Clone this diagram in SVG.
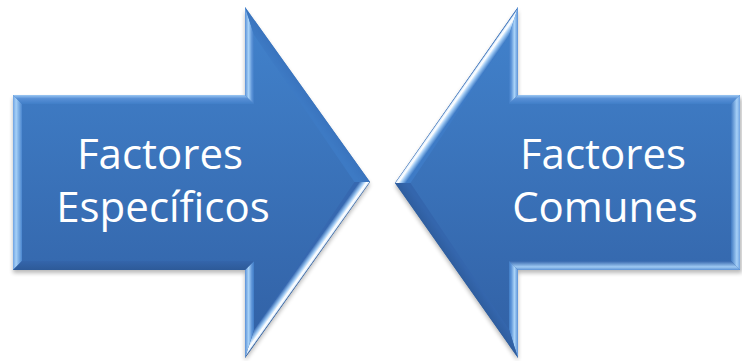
<svg xmlns="http://www.w3.org/2000/svg" width="742" height="361" viewBox="0 0 742 361">
  <defs>
    <style>
      .lbl { font-family: "Open Sans", "Noto Sans", sans-serif; font-size: 42px; fill: #ffffff; text-anchor: middle; }
      .shadow { fill: #000000; opacity: 0.28; filter: url(#blur); }
    </style>
    <filter id="blur" x="-10%" y="-10%" width="120%" height="120%">
      <feGaussianBlur stdDeviation="2"/>
    </filter>
    <linearGradient id="body" gradientUnits="userSpaceOnUse" x1="0" y1="7" x2="0" y2="358">
      <stop offset="0" stop-color="#4283cd"/>
      <stop offset="1" stop-color="#3160a4"/>
    </linearGradient>
    <!-- left arrow bevel faces -->
    <linearGradient id="lLeft" gradientUnits="userSpaceOnUse" x1="13" y1="0" x2="22" y2="0">
      <stop offset="0" stop-color="#6fa3e2"/>
      <stop offset="0.35" stop-color="#a6d0f7"/>
      <stop offset="1" stop-color="#4a86cf"/>
    </linearGradient>
    <linearGradient id="lTop" gradientUnits="userSpaceOnUse" x1="0" y1="95" x2="0" y2="104">
      <stop offset="0" stop-color="#9cc8f3"/>
      <stop offset="0.4" stop-color="#5890d6"/>
      <stop offset="1" stop-color="#407ec8"/>
    </linearGradient>
    <linearGradient id="lBack" gradientUnits="userSpaceOnUse" x1="245" y1="0" x2="254" y2="0">
      <stop offset="0" stop-color="#5b92d8"/>
      <stop offset="0.4" stop-color="#a9d3f8"/>
      <stop offset="0.75" stop-color="#5d94d8"/>
      <stop offset="1" stop-color="#3f7cc6"/>
    </linearGradient>
    <linearGradient id="lUpDiag" gradientUnits="userSpaceOnUse" x1="307.5" y1="94.5" x2="300.2" y2="99.7">
      <stop offset="0" stop-color="#3a74be"/>
      <stop offset="1" stop-color="#3d7ac4"/>
    </linearGradient>
    <linearGradient id="lLowDiag" gradientUnits="userSpaceOnUse" x1="307.5" y1="270" x2="300.2" y2="264.8">
      <stop offset="0" stop-color="#2f5e9e"/>
      <stop offset="0.12" stop-color="#e6f3ff"/>
      <stop offset="0.3" stop-color="#ffffff"/>
      <stop offset="0.58" stop-color="#9cc8f3"/>
      <stop offset="1" stop-color="#3668b0"/>
    </linearGradient>
    <linearGradient id="lBottom" gradientUnits="userSpaceOnUse" x1="0" y1="270" x2="0" y2="261">
      <stop offset="0" stop-color="#2d5a98"/>
      <stop offset="1" stop-color="#3465ab"/>
    </linearGradient>
    <!-- right arrow bevel faces -->
    <linearGradient id="rUpDiag" gradientUnits="userSpaceOnUse" x1="456.5" y1="95" x2="463.9" y2="100.2">
      <stop offset="0" stop-color="#3a6fb8"/>
      <stop offset="0.12" stop-color="#e6f3ff"/>
      <stop offset="0.3" stop-color="#ffffff"/>
      <stop offset="0.58" stop-color="#a0caf4"/>
      <stop offset="1" stop-color="#3e7bc6"/>
    </linearGradient>
    <linearGradient id="rBack" gradientUnits="userSpaceOnUse" x1="518" y1="0" x2="509" y2="0">
      <stop offset="0" stop-color="#5b92d8"/>
      <stop offset="0.4" stop-color="#a9d3f8"/>
      <stop offset="0.75" stop-color="#5d94d8"/>
      <stop offset="1" stop-color="#3f7cc6"/>
    </linearGradient>
    <linearGradient id="rTop" gradientUnits="userSpaceOnUse" x1="0" y1="95" x2="0" y2="104">
      <stop offset="0" stop-color="#9cc8f3"/>
      <stop offset="0.4" stop-color="#5890d6"/>
      <stop offset="1" stop-color="#407ec8"/>
    </linearGradient>
    <linearGradient id="rRight" gradientUnits="userSpaceOnUse" x1="740" y1="0" x2="731" y2="0">
      <stop offset="0" stop-color="#6fa3e2"/>
      <stop offset="0.35" stop-color="#a6d0f7"/>
      <stop offset="1" stop-color="#3f79c2"/>
    </linearGradient>
    <linearGradient id="rBottom" gradientUnits="userSpaceOnUse" x1="0" y1="270" x2="0" y2="261">
      <stop offset="0" stop-color="#5d93d6"/>
      <stop offset="0.35" stop-color="#9ec9f3"/>
      <stop offset="1" stop-color="#3566ad"/>
    </linearGradient>
    <linearGradient id="rLowDiag" gradientUnits="userSpaceOnUse" x1="456.5" y1="270.5" x2="463.9" y2="265.3">
      <stop offset="0" stop-color="#2f5e9f"/>
      <stop offset="1" stop-color="#3466ad"/>
    </linearGradient>
  </defs>

  <g id="connectors"></g>

  <g id="node-especificos">
    <polygon class="shadow" points="13,98 245,98 245,10 370,185 245,361 245,273 13,273"/>
    <polygon points="13,95 245,95 245,7 370,182 245,358 245,270 13,270" fill="url(#body)"/>
    <polygon points="13,95 13,270 22,261 22,104" fill="url(#lLeft)"/>
    <polygon points="13,95 245,95 254,104 22,104" fill="url(#lTop)"/>
    <polygon points="245,95 245,7 254,35 254,104" fill="url(#lBack)"/>
    <polygon points="245,7 370,182 354.5,182 254,35" fill="url(#lUpDiag)"/>
    <polygon points="370,182 245,358 254,330 354.5,182" fill="url(#lLowDiag)"/>
    <polygon points="245,358 245,270 254,261 254,330" fill="url(#lBack)"/>
    <polygon points="245,270 13,270 22,261 254,261" fill="url(#lBottom)"/>
    <text class="lbl" x="160" y="169">Factores</text>
    <text class="lbl" x="163" y="222">Específicos</text>
  </g>

  <g id="node-comunes">
    <polygon class="shadow" points="395,186 518,10 518,98 742,98 742,273 518,273 518,361"/>
    <polygon points="395,183 518,7 518,95 740,95 740,270 518,270 518,358" fill="url(#body)"/>
    <polygon points="395,183 518,7 509,35.6 410.5,183" fill="url(#rUpDiag)"/>
    <polygon points="518,7 518,95 509,104 509,35.6" fill="url(#rBack)"/>
    <polygon points="518,95 740,95 731,104 509,104" fill="url(#rTop)"/>
    <polygon points="740,95 740,270 731,261 731,104" fill="url(#rRight)"/>
    <polygon points="740,270 518,270 509,261 731,261" fill="url(#rBottom)"/>
    <polygon points="518,270 518,358 509,329.5 509,261" fill="url(#rBack)"/>
    <polygon points="518,358 395,183 410.5,183 509,329.5" fill="url(#rLowDiag)"/>
    <text class="lbl" x="603" y="169">Factores</text>
    <text class="lbl" x="605" y="222">Comunes</text>
  </g>
</svg>
